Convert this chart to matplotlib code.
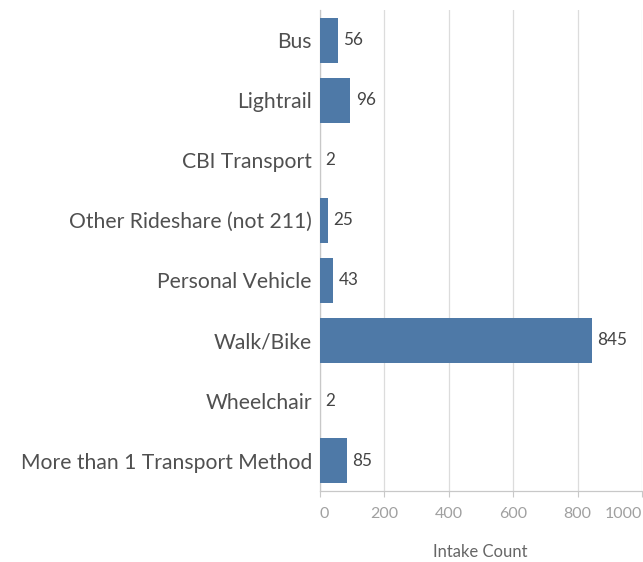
import matplotlib.pyplot as plt

plt.rcParams["font.family"] = ["Lato", "DejaVu Sans"]

categories = [
    "Bus",
    "Lightrail",
    "CBI Transport",
    "Other Rideshare (not 211)",
    "Personal Vehicle",
    "Walk/Bike",
    "Wheelchair",
    "More than 1 Transport Method",
]
counts = [56, 96, 2, 25, 43, 845, 2, 85]
xticks = [0, 200, 400, 600, 800, 1000]

BAR_COLOR = "#4e79a7"
GRID_COLOR = "#dcdcdc"

fig = plt.figure(figsize=(6.43, 5.62), dpi=100)
ax = fig.add_axes([319.5 / 643, 1 - 490.7 / 562, (642 - 319.5) / 643, (490.7 - 10) / 562])

ypos = list(range(len(categories)))
ax.barh(ypos, counts, height=0.75, color=BAR_COLOR, zorder=3)
ax.set_ylim(len(categories) - 0.5, -0.5)
ax.set_xlim(0, 1000)

for y, v in zip(ypos, counts):
    ax.annotate(str(v), (v, y), xytext=(4, 0), textcoords="offset points",
                va="center", ha="left", fontsize=12.3, color="#444444", zorder=4)

ax.set_yticks(ypos)
ax.set_yticklabels(categories, fontsize=15.2, color="#505050")
ax.tick_params(axis="y", length=0, pad=5.5)

ax.set_xticks(xticks)
ax.set_xticklabels([str(t) for t in xticks], fontsize=11.5, color="#a0a0a0")
ax.tick_params(axis="x", length=4, width=0.8, color="#c8c8c8", pad=8)
labels = ax.get_xticklabels()
labels[0].set_ha("left")
labels[-1].set_ha("right")

ax.grid(axis="x", color=GRID_COLOR, linewidth=0.9, zorder=0)
for side in ["top", "right"]:
    ax.spines[side].set_visible(False)
ax.spines["left"].set_color("#c8c8c8")
ax.spines["bottom"].set_color("#c8c8c8")
ax.spines["left"].set_linewidth(0.9)
ax.spines["bottom"].set_linewidth(0.9)

ax.set_xlabel("Intake Count", fontsize=12, color="#666666", labelpad=16)

fig.savefig("out.png", dpi=100)
